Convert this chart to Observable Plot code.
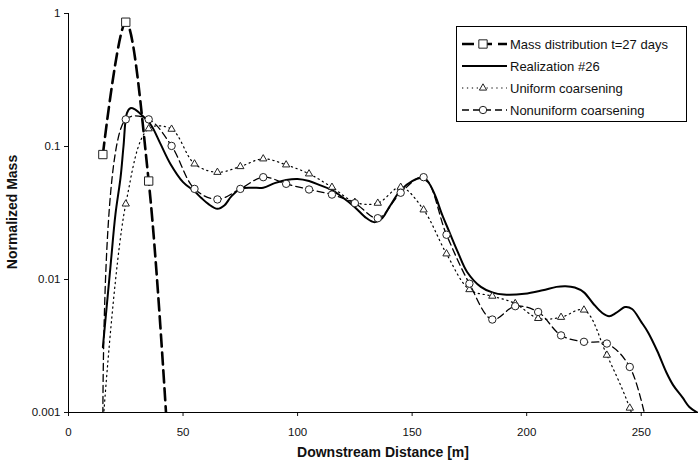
<!DOCTYPE html>
<html>
<head>
<meta charset="utf-8">
<script src="https://cdn.jsdelivr.net/npm/d3@7"></script>
<script src="https://cdn.jsdelivr.net/npm/@observablehq/plot@0.6"></script>
<style>
  html, body { margin: 0; padding: 0; background: #fff; }
  #chart svg { display: block; }
</style>
</head>
<body>
<div id="chart"></div>
<script>
// Mass distribution measured at t = 27 days
const massDist = [15, 25, 35, 45];
const massValue = [0.087, 0.86, 0.055, 0.0002];

// Realization #26 (continuous curve)
const realDist = [15,18.3,20.5,22.7,24,25.5,27,29,32,36,40,44.5,50,55,58,61,65,68,71,75,80,85,90,95,100,105,110,115,120,125,130,133.5,137,140,145,150,154,157,160,163,166,170,174,180,185,190,199,207,213,217,221,225,229,233,236,239,243,246,250,253,257,261,264,268,271,274.5];
const realValue = [0.0031,0.0124,0.031,0.058,0.1,0.178,0.194,0.19,0.172,0.145,0.106,0.074,0.054,0.046,0.041,0.037,0.034,0.036,0.042,0.048,0.049,0.049,0.053,0.056,0.057,0.055,0.051,0.047,0.041,0.035,0.029,0.027,0.029,0.035,0.047,0.055,0.058,0.054,0.043,0.031,0.0233,0.016,0.0114,0.0088,0.008,0.0077,0.0078,0.0083,0.0088,0.0089,0.0087,0.008,0.0066,0.0056,0.0053,0.0056,0.0062,0.006,0.0048,0.004,0.0029,0.002,0.0016,0.0013,0.0011,0.001];

// Coarsened models, sampled every 10 m
const coarseDist = [15,25,35,45,55,65,75,85,95,105,115,125,135,145,155,165,175,185,195,205,215,225,235,245,255];
const uniformValue = [0.0008,0.037,0.136,0.135,0.074,0.064,0.0707,0.0808,0.0728,0.0623,0.0494,0.0381,0.0375,0.0494,0.0334,0.0156,0.0084,0.0075,0.0066,0.0051,0.0052,0.0059,0.0027,0.00108,0.0003];
const nonuniformValue = [0.0008,0.16,0.16,0.101,0.048,0.040,0.048,0.0588,0.0524,0.0475,0.0435,0.0375,0.0289,0.0449,0.0588,0.0217,0.0093,0.0050,0.0063,0.0057,0.0038,0.0034,0.0033,0.0022,0.0005];

// Axis ticks
const xTicks = [0, 50, 100, 150, 200, 250];
const yTicks = [1, 0.1, 0.01, 0.001];
const yTickLabels = ["1", "0.1", "0.01", "0.001"];

const seriesNames = ["Mass distribution t=27 days", "Realization #26", "Uniform coarsening", "Nonuniform coarsening"];

const toRows = (xs, ys) => xs.map((x, i) => ({x, y: ys[i]}));
const mass = toRows(massDist, massValue);
const real = toRows(realDist, realValue);
const uniform = toRows(coarseDist, uniformValue);
const nonuniform = toRows(coarseDist, nonuniformValue);

const visible = d => d.y >= 0.001;
const FONT = "'Liberation Sans', Arial, Helvetica, sans-serif";

const styles = {
  mass: {stroke: "#000", strokeWidth: 2.6, strokeDasharray: "12,6"},
  real: {stroke: "#000", strokeWidth: 2},
  uniform: {stroke: "#000", strokeWidth: 1.2, strokeDasharray: "1.3,3.6"},
  nonuniform: {stroke: "#000", strokeWidth: 1.3, strokeDasharray: "7,4"}
};
const markerStyle = {fill: "white", stroke: "#222", strokeWidth: 1};

const chart = Plot.plot({
  width: 699,
  height: 468,
  marginLeft: 68,
  marginRight: 1,
  marginTop: 13,
  marginBottom: 56,
  style: {fontFamily: FONT, fontSize: "11.5px", color: "#111", background: "#fff"},
  x: {domain: [0, 275]},
  y: {type: "log", domain: [0.001, 1]},
  marks: [
    Plot.axisX({ticks: xTicks, tickSize: 4, tickPadding: 11, label: null}),
    Plot.axisY({ticks: yTicks, tickFormat: d => yTickLabels[yTicks.indexOf(d)], tickSize: 4, tickPadding: 4, label: null}),
    Plot.lineY(uniform, {x: "x", y: "y", curve: "catmull-rom", clip: true, ...styles.uniform}),
    Plot.lineY(nonuniform, {x: "x", y: "y", curve: "catmull-rom", clip: true, ...styles.nonuniform}),
    Plot.lineY(real, {x: "x", y: "y", curve: "catmull-rom", clip: true, ...styles.real}),
    Plot.lineY(mass, {x: "x", y: "y", curve: "catmull-rom", clip: true, ...styles.mass}),
    Plot.dot(uniform, {x: "x", y: "y", filter: visible, symbol: "triangle", r: 2.7, ...markerStyle}),
    Plot.dot(nonuniform, {x: "x", y: "y", filter: visible, symbol: "circle", r: 3.7, ...markerStyle}),
    Plot.dot(mass, {x: "x", y: "y", filter: visible, symbol: "square", r: 4.7, ...markerStyle}),
    Plot.ruleX([0], {stroke: "#000", strokeWidth: 1}),
    Plot.ruleY([0.001], {stroke: "#000", strokeWidth: 1})
  ]
});

const svg = d3.select(chart);

// Axis titles
svg.append("text")
  .attr("x", 383).attr("y", 457)
  .attr("text-anchor", "middle")
  .attr("font-family", FONT).attr("font-size", 14).attr("font-weight", "bold")
  .attr("fill", "#111")
  .text("Downstream Distance [m]");

svg.append("text")
  .attr("transform", "translate(17,212) rotate(-90)")
  .attr("text-anchor", "middle")
  .attr("font-family", FONT).attr("font-size", 14).attr("font-weight", "bold")
  .attr("fill", "#111")
  .text("Normalized Mass");

// Legend box
const legend = svg.append("g").attr("text-anchor", "start");
legend.append("rect")
  .attr("x", 456.5).attr("y", 26.5).attr("width", 230).attr("height", 95)
  .attr("fill", "white").attr("stroke", "#000").attr("stroke-width", 1);

const legendItems = [
  {style: styles.mass, symbol: d3.symbolSquare, r: 4.7},
  {style: styles.real, symbol: null},
  {style: styles.uniform, symbol: d3.symbolTriangle, r: 2.7},
  {style: styles.nonuniform, symbol: d3.symbolCircle, r: 3.7}
];
legendItems.forEach((item, i) => {
  const cy = 44 + i * 22;
  legend.append("line")
    .attr("x1", 462).attr("x2", 507).attr("y1", cy).attr("y2", cy)
    .attr("stroke", item.style.stroke)
    .attr("stroke-width", item.style.strokeWidth)
    .attr("stroke-dasharray", item.style.strokeDasharray || null);
  if (item.symbol) {
    legend.append("path")
      .attr("transform", `translate(483,${cy})`)
      .attr("d", d3.symbol(item.symbol, Math.PI * item.r * item.r)())
      .attr("fill", markerStyle.fill).attr("stroke", markerStyle.stroke).attr("stroke-width", 1);
  }
  legend.append("text")
    .attr("x", 510).attr("y", cy).attr("dy", "0.35em")
    .attr("text-anchor", "start")
    .attr("font-family", FONT).attr("font-size", 13)
    .attr("fill", "#111")
    .text(seriesNames[i]);
});

document.getElementById("chart").appendChild(chart);
</script>
</body>
</html>
